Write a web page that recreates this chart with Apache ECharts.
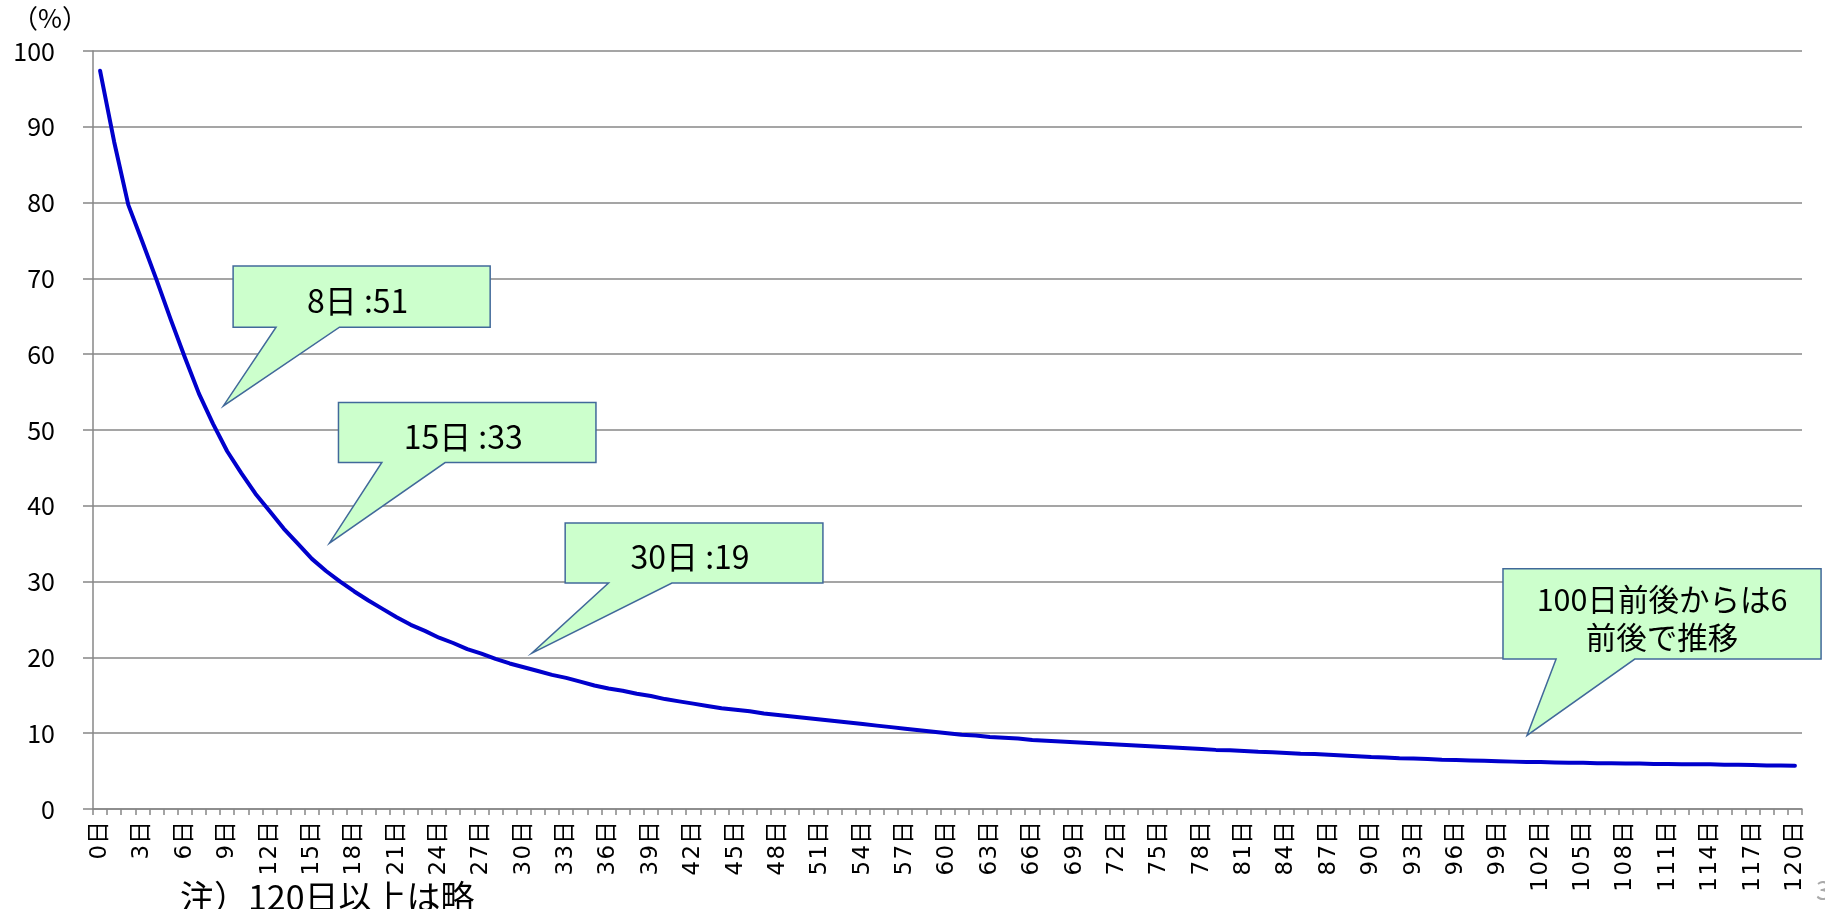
<!DOCTYPE html>
<html>
<head>
<meta charset="utf-8">
<script src="https://cdn.jsdelivr.net/npm/echarts@6/dist/echarts.min.js"></script>
<style>
  html, body { margin: 0; padding: 0; background: #fff; }
  #chart { width: 1825px; height: 909px; }
</style>
</head>
<body>
<div id="chart"></div>
<script>
// 経過日数 (0日〜120日)
const days = Array.from({ length: 121 }, (_, i) => i + '日');

// 残存率 (%)
const rate = [
  97.4, 88.0, 79.7, 74.8, 69.8, 64.6, 59.6, 54.8, 50.8, 47.2,
  44.3, 41.6, 39.3, 37.0, 35.0, 33.0, 31.4, 30.0, 28.7, 27.5,
  26.4, 25.3, 24.3, 23.5, 22.6, 21.9, 21.1, 20.5, 19.8, 19.2,
  18.7, 18.2, 17.7, 17.3, 16.8, 16.3, 15.9, 15.6, 15.2, 14.9,
  14.5, 14.2, 13.9, 13.6, 13.3, 13.1, 12.9, 12.6, 12.4, 12.2,
  12.0, 11.8, 11.6, 11.4, 11.2, 11.0, 10.8, 10.6, 10.4, 10.2,
  10.0, 9.8, 9.7, 9.5, 9.4, 9.3, 9.1, 9.0, 8.9, 8.8,
  8.7, 8.6, 8.5, 8.4, 8.3, 8.2, 8.1, 8.0, 7.9, 7.8,
  7.75, 7.65, 7.55, 7.5, 7.4, 7.3, 7.25, 7.15, 7.05, 6.95,
  6.85, 6.8, 6.7, 6.65, 6.6, 6.5, 6.45, 6.4, 6.35, 6.3,
  6.25, 6.2, 6.2, 6.15, 6.1, 6.1, 6.05, 6.05, 6.0, 6.0,
  5.95, 5.95, 5.9, 5.9, 5.9, 5.85, 5.85, 5.8, 5.75, 5.75,
  5.7
];

// 吹き出し (位置は [日, %] のデータ座標)
const notes = [
  { text: '8日 :51', box: [9.42, 71.65, 27.62, 63.56], base: [12.46, 16.95], tip: [8.73, 53.18] },
  { text: '15日 :33', box: [16.88, 53.62, 35.11, 45.71], base: [19.95, 24.43], tip: [16.24, 35.08] },
  { text: '30日 :19', box: [32.93, 37.72, 51.18, 29.80], base: [36.0, 40.49], tip: [30.57, 20.57] },
  { text: '100日前後からは6\n前後で推移', box: [99.33, 31.69, 121.85, 19.78], base: [103.09, 108.66], tip: [101.03, 9.71] }
];

const FONT = "'Noto Sans CJK JP', 'DejaVu Sans', sans-serif";
const LABEL_FONT = "'DejaVu Sans', 'Noto Sans CJK JP', sans-serif";
const GRID_COLOR = '#878787';

const chart = echarts.init(document.getElementById('chart'));

chart.setOption({
  animation: false,
  backgroundColor: '#fff',
  grid: { left: 93, right: 23, top: 51, bottom: 100 },
  xAxis: {
    type: 'category',
    data: days,
    boundaryGap: true,
    axisLine: { lineStyle: { color: GRID_COLOR, width: 1.5 } },
    axisTick: { show: true, interval: 0, length: 6, lineStyle: { color: GRID_COLOR, width: 1.5 } },
    axisLabel: {
      interval: 2,
      rotate: 90,
      margin: 12,
      color: '#000',
      fontSize: 23,
      fontFamily: LABEL_FONT,
      // 元図の目盛ラベルは横長なので、数字ごとに少し間隔を空ける
      formatter: v => v.replace(/\d/g, d => '{d|' + d + '}').replace('日', '{k|日}'),
      rich: {
        d: { fontSize: 23, fontFamily: LABEL_FONT, padding: [0, 0.75] },
        k: { fontSize: 23, fontFamily: LABEL_FONT }
      }
    }
  },
  yAxis: {
    type: 'value',
    min: 0,
    max: 100,
    interval: 10,
    axisLine: { show: true, lineStyle: { color: GRID_COLOR, width: 1.5 } },
    axisTick: { show: true, length: 10, lineStyle: { color: GRID_COLOR, width: 1.5 } },
    splitLine: { lineStyle: { color: GRID_COLOR, width: 1.5 } },
    axisLabel: {
      margin: 38,
      color: '#000',
      fontSize: 25,
      fontFamily: FONT
    }
  },
  series: [{
    type: 'line',
    data: rate,
    symbol: 'none',
    smooth: false,
    lineStyle: { color: '#0000CC', width: 4, cap: 'round', join: 'round' }
  }]
});

// 吹き出しと注記
const p0 = chart.convertToPixel({ gridIndex: 0 }, [0, 0]);
const p1 = chart.convertToPixel({ gridIndex: 0 }, [120, 100]);
function toPx(d, v) {
  return [p0[0] + (p1[0] - p0[0]) * d / 120, p0[1] + (p1[1] - p0[1]) * v / 100];
}

const graphics = [];
notes.forEach(n => {
  const [x0, y0, x1, y1] = n.box;
  const pts = [
    toPx(x0, y0), toPx(x1, y0), toPx(x1, y1),
    toPx(n.base[1], y1), toPx(n.tip[0], n.tip[1]), toPx(n.base[0], y1),
    toPx(x0, y1)
  ];
  graphics.push({
    type: 'polygon',
    shape: { points: pts },
    style: { fill: '#CCFFCC', stroke: '#41699A', lineWidth: 1.5 },
    z: 10
  });
  const c = toPx((x0 + x1) / 2, (y0 + y1) / 2);
  const multi = n.text.indexOf('\n') >= 0;
  graphics.push({
    type: 'text',
    x: c[0] - (multi ? 0 : 4),
    y: c[1] + 4,
    style: {
      text: n.text,
      fill: '#000',
      fontSize: multi ? 30.5 : 32,
      fontFamily: FONT,
      lineHeight: 38,
      align: 'center',
      verticalAlign: 'middle'
    },
    z: 11
  });
});

graphics.push({
  type: 'text', left: 12, top: 5,
  style: { text: '（%）', fill: '#000', fontSize: 26, fontFamily: FONT }
});
graphics.push({
  type: 'text', left: 180, top: 880,
  style: { text: '注）120日以上は略', fill: '#000', fontSize: 34, fontFamily: FONT }
});
graphics.push({
  type: 'text', left: 1816, top: 877,
  style: { text: '3', fill: '#aaa', fontSize: 26, fontFamily: FONT }
});

chart.setOption({ graphic: graphics });
</script>
</body>
</html>
